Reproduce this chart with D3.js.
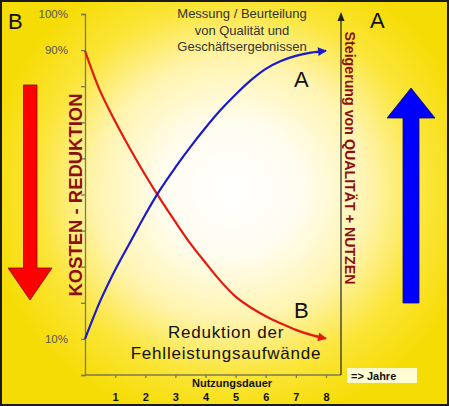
<!DOCTYPE html>
<html><head><meta charset="utf-8">
<script src="https://cdn.jsdelivr.net/npm/d3@7"></script>
<style>body{margin:0;background:#fff}svg{display:block}</style>
</head><body>
<script>
// ---- data ----
const years = [0, 0.5, 1, 1.5, 2, 2.5, 3, 3.5, 4, 4.5, 5, 5.5, 6, 6.5, 7, 7.5, 8];
const qualityPct = [10, 20.4, 29.1, 36.8, 44.4, 51.4, 57.5, 63.2, 68.5, 73.4, 77.7, 81.6, 84.8, 87.0, 88.4, 89.3, 89.8]; // curve A (blue)
const costPct = [89.8, 78.7, 70.3, 62.6, 55.4, 48.7, 42.4, 36.4, 31.1, 26.0, 21.7, 18.7, 16.3, 14.3, 12.5, 11.1, 10.1]; // curve B (red)
const xTicks = [1, 2, 3, 4, 5, 6, 7, 8];
const yTicks = [0, 10, 20, 30, 40, 50, 60, 70, 80, 90, 100];
const yLabelTicks = [10, 90, 100];
const titleLines = ["Messung / Beurteilung", "von Qualität und", "Geschäftsergebnissen"];
const bottomLines = ["Reduktion der", "Fehlleistungsaufwände"];

const W = 449, H = 406;
const svg = d3.select("body").append("svg").attr("width", W).attr("height", H);
const defs = svg.append("defs");
const grad = defs.append("radialGradient").attr("id", "bg")
  .attr("gradientUnits", "userSpaceOnUse").attr("cx", 232).attr("cy", 190).attr("r", 250)
  .attr("gradientTransform", "translate(232,190) scale(1,0.95) translate(-232,-190)");
grad.append("stop").attr("offset", "0").attr("stop-color", "#ffffff");
grad.append("stop").attr("offset", "0.28").attr("stop-color", "#fffdf0");
grad.append("stop").attr("offset", "0.55").attr("stop-color", "#fff4ae");
grad.append("stop").attr("offset", "0.78").attr("stop-color", "#fbe538");
grad.append("stop").attr("offset", "1").attr("stop-color", "#f6dc05");

function marker(id, color) {
  defs.append("marker").attr("id", id).attr("viewBox", "0 0 10 10")
    .attr("refX", 9).attr("refY", 5).attr("markerWidth", 5).attr("markerHeight", 4)
    .attr("orient", "auto").attr("markerUnits", "strokeWidth")
    .append("path").attr("d", "M0,0 L10,5 L0,10 Z").attr("fill", color);
}
marker("arrRed", "#e6190f");
marker("arrBlue", "#1a1ad0");

svg.append("rect").attr("x", 0).attr("y", 0).attr("width", W).attr("height", H).attr("fill", "url(#bg)");
svg.append("rect").attr("x", 1).attr("y", 1).attr("width", W - 2).attr("height", H - 2)
  .attr("fill", "none").attr("stroke", "#1a1a1a").attr("stroke-width", 2);

const x = d3.scaleLinear().domain([0, 8]).range([85, 326]);
const y = d3.scaleLinear().domain([0, 100]).range([375, 14]);
const ff = "Liberation Sans, Arial, sans-serif";

// left axis
const gl = svg.append("g").attr("transform", "translate(85,0)")
  .call(d3.axisLeft(y).tickValues(yTicks).tickSize(4).tickFormat(""));
gl.select(".domain").attr("stroke", "#7a7a50").attr("stroke-width", 1.3);
gl.selectAll(".tick line").attr("stroke", "#7a7a50").attr("stroke-width", 1.3);
svg.selectAll(".ylab").data(yLabelTicks).enter().append("text")
  .attr("x", 68).attr("y", d => y(d) + 4).attr("text-anchor", "end")
  .attr("font-family", ff).attr("font-size", 11.5)
  .attr("fill", "#555").text(d => d + "%");

// bottom axis
const gb = svg.append("g").attr("transform", "translate(0,375)")
  .call(d3.axisBottom(x).tickValues(xTicks).tickSize(3).tickPadding(15).tickSizeOuter(0));
gb.select(".domain").attr("d", `M85,0H341`).attr("stroke", "#7a7a50").attr("stroke-width", 1.3);
gb.selectAll(".tick line").attr("stroke", "#7a7a50").attr("stroke-width", 1.3);
gb.selectAll(".tick text").attr("font-family", ff)
  .attr("font-size", 11).attr("font-weight", "bold").attr("fill", "#111");

// right axis with arrow
svg.append("line").attr("x1", 341).attr("x2", 341).attr("y1", 375).attr("y2", 16)
  .attr("stroke", "#222").attr("stroke-width", 1.2);
svg.append("path").attr("d", "M341,12 L337.5,21 L344.5,21 Z").attr("fill", "#222");

// curves
const line = d3.line().x((d, i) => x(years[i])).y(d => y(d)).curve(d3.curveCatmullRom.alpha(0.5));
svg.append("path").attr("d", line(costPct)).attr("fill", "none").attr("stroke", "#e6190f")
  .attr("stroke-width", 2.2).attr("marker-end", "url(#arrRed)");
svg.append("path").attr("d", line(qualityPct)).attr("fill", "none").attr("stroke", "#1a1ad0")
  .attr("stroke-width", 2.2).attr("marker-end", "url(#arrBlue)");

// big arrows
svg.append("path").attr("d", "M23.5,85 H37 V268 H52 L30,300 L8,268 H23.5 Z")
  .attr("fill", "#ff0000").attr("stroke", "#7a1010").attr("stroke-width", 0.8);
svg.append("path").attr("d", "M403,303 V118 H387 L411,88 L435,118 H419 V303 Z")
  .attr("fill", "#0000ff").attr("stroke", "#10105a").attr("stroke-width", 0.8);

// letters
const letters = [["B", 8, 29], ["A", 370, 28], ["A", 294, 87], ["B", 294, 318]];
svg.selectAll(".let").data(letters).enter().append("text")
  .attr("x", d => d[1]).attr("y", d => d[2]).attr("font-family", ff).attr("font-size", 22)
  .attr("fill", "#111").text(d => d[0]);

// title
svg.selectAll(".tl").data(titleLines).enter().append("text")
  .attr("x", 242).attr("y", (d, i) => 18 + i * 16.5).attr("text-anchor", "middle")
  .attr("font-family", ff).attr("font-size", 13).attr("fill", "#333").text(d => d);

// bottom text
svg.selectAll(".bl").data(bottomLines).enter().append("text")
  .attr("x", 226).attr("y", (d, i) => 338 + i * 21).attr("text-anchor", "middle")
  .attr("font-family", ff).attr("font-size", 17).attr("letter-spacing", 0.8)
  .attr("fill", "#111").text(d => d);

// x title
svg.append("text").attr("x", 232).attr("y", 387).attr("text-anchor", "middle")
  .attr("font-family", ff).attr("font-size", 11).attr("font-weight", "bold").attr("fill", "#111")
  .text("Nutzungsdauer");

// Jahre box
svg.append("rect").attr("x", 347).attr("y", 368).attr("width", 70).attr("height", 15).attr("fill", "#fffbd2");
svg.append("text").attr("x", 351).attr("y", 380).attr("font-family", ff).attr("font-size", 11)
  .attr("font-weight", "bold").attr("fill", "#111").text("=> Jahre");

// rotated labels
svg.append("text").attr("transform", "translate(82,195) rotate(-90)").attr("text-anchor", "middle")
  .attr("font-family", ff).attr("font-size", 18).attr("font-weight", "bold").attr("fill", "#8b1010")
  .attr("textLength", 203).attr("lengthAdjust", "spacingAndGlyphs")
  .text("KOSTEN - REDUKTION");
svg.append("text").attr("transform", "translate(345,158) rotate(90)").attr("text-anchor", "middle")
  .attr("font-family", ff).attr("font-size", 14).attr("font-weight", "bold").attr("fill", "#8b1010")
  .attr("textLength", 253).attr("lengthAdjust", "spacingAndGlyphs")
  .text("Steigerung von QUALITÄT + NUTZEN");
</script>
</body></html>
